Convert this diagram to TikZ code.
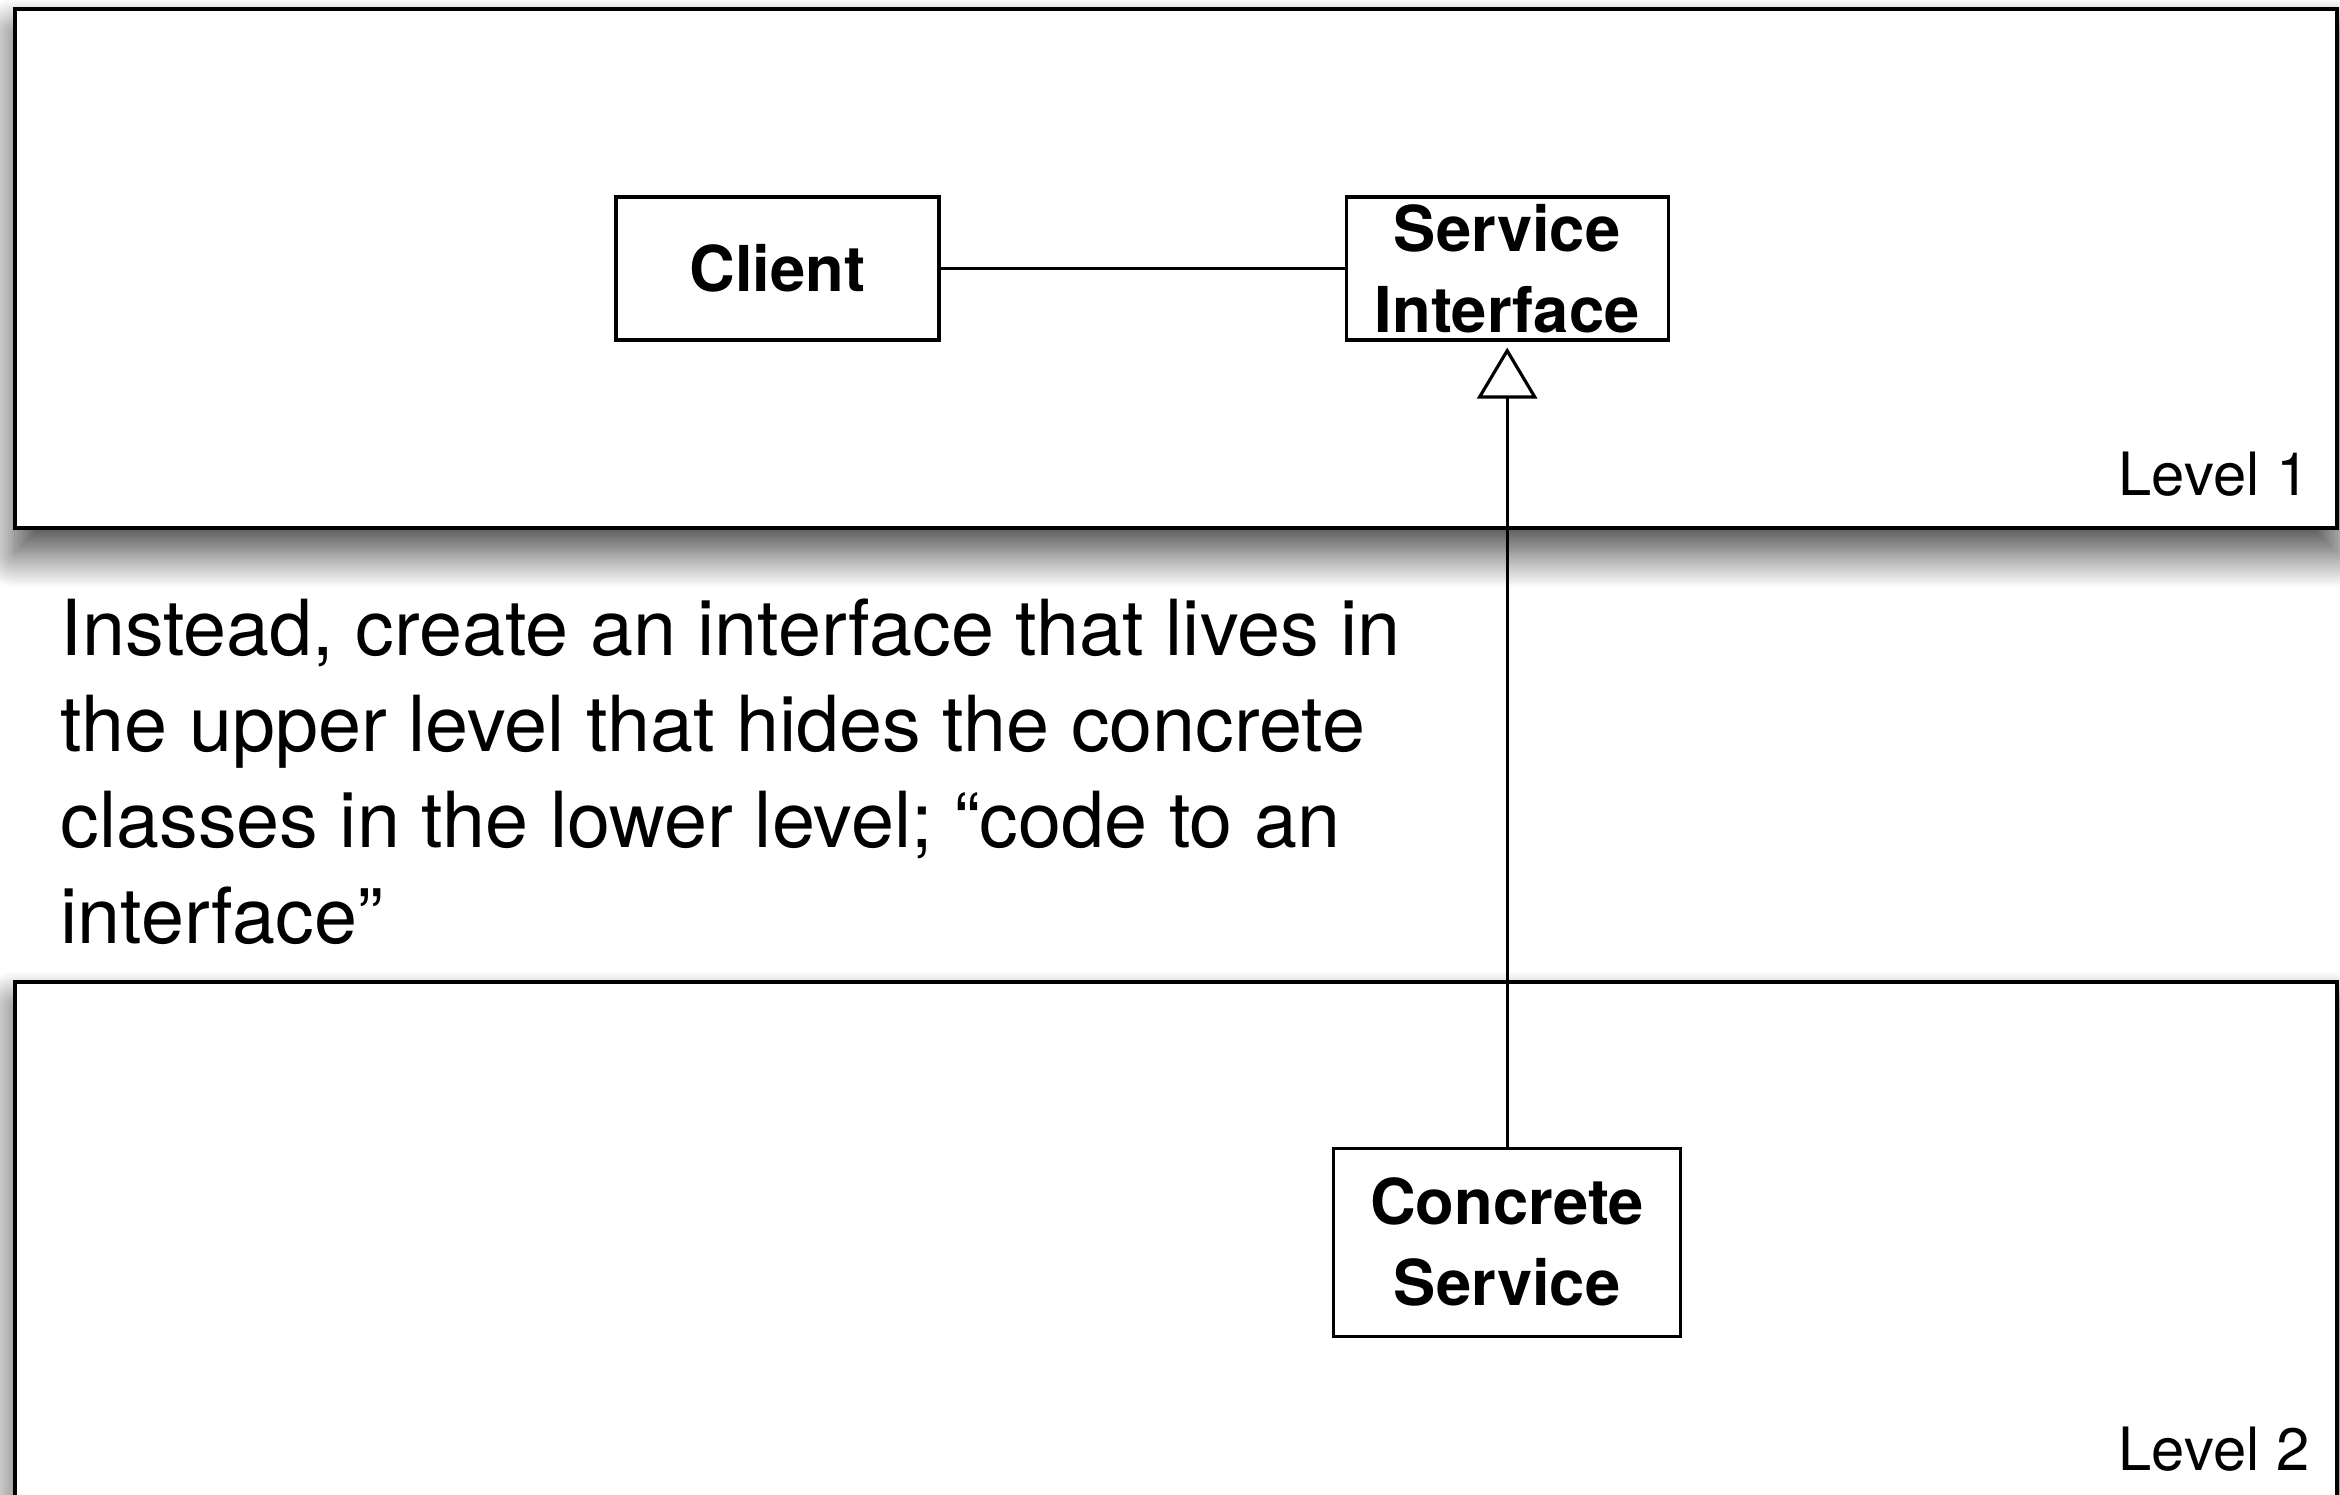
\documentclass[tikz,border=0pt]{standalone}
\usepackage{fontspec}
\setmainfont{TeX Gyre Heros}
\usepackage{tikz}
\usetikzlibrary{arrows.meta,positioning,shadows.blur}

\begin{document}
\begin{tikzpicture}[frame/.style={rectangle, draw, fill=white, line width=0.9pt, minimum width=23.22cm, blur shadow={shadow xshift=0pt, shadow yshift=-7pt, shadow blur radius=10pt, shadow blur steps=30, shadow opacity=75}}, box/.style={rectangle, draw, fill=white, line width=0.9pt, align=center, inner sep=0pt, font=\fontsize{18}{23}\selectfont\bfseries}, lvl/.style={font=\fontsize{17}{20}\selectfont, inner sep=0pt}, link/.style={line width=0.9pt}, realize/.style={-{Triangle[open, width=6mm, length=5.1mm]}, line width=0.9pt}]
        \useasboundingbox (0,0) rectangle (23.4,-14.94);
        \node[frame, minimum height=5.19cm] (level1) at (11.76,-2.685) {};
        \node[frame, minimum height=5.68cm] (level2) at (11.76,-12.66) {};
        \node[lvl, anchor=base east] (lone) at (23.10,-4.95) {Level 1};
        \node[lvl, anchor=base east] (ltwo) at (23.10,-14.70) {Level 2};
        \node[box, minimum width=3.23cm, minimum height=1.43cm] (client) at (7.775,-2.685) {Client};
        \node[box, minimum width=3.22cm, minimum height=1.43cm, right=4.04cm of client] (iface) {Service\\Interface};
        \node[box, minimum width=3.47cm, minimum height=1.88cm, below=8.05cm of iface] (concrete) {Concrete\\Service};
        \node[anchor=north west, inner sep=0pt, align=left, font=\fontsize{22}{27.3}\selectfont] (note) at (0.60,-5.98) {Instead, create an interface that lives in\\the upper level that hides the concrete\\classes in the lower level; “code to an\\interface”};
        \draw[link] (client) -- (iface);
        \draw[realize] (concrete.north) -- ([yshift=-0.6mm]iface.south);
      \end{tikzpicture}
\end{document}
